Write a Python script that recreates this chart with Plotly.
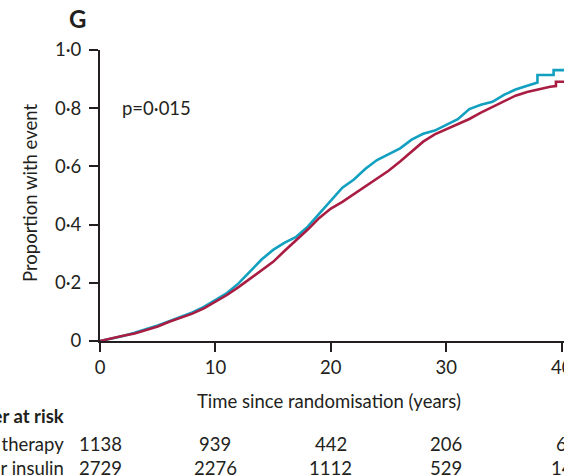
import plotly.graph_objects as go

# ---- data ----
t_conv = [0, 1, 2, 3, 4, 5, 6, 7, 8, 9, 10, 11, 12, 13, 14, 15, 16, 17, 18, 19, 20,
          21, 22, 23, 24, 25, 26, 27, 28, 29, 30, 31, 32, 33, 34, 35, 36, 37, 37.9, 37.9,
          39.3, 39.3, 40.2]
p_conv = [0, 0.008, 0.017, 0.028, 0.040, 0.053, 0.068, 0.083, 0.098, 0.117, 0.140, 0.165,
          0.198, 0.238, 0.280, 0.313, 0.338, 0.358, 0.393, 0.438, 0.482, 0.527, 0.555,
          0.592, 0.622, 0.642, 0.662, 0.692, 0.712, 0.723, 0.742, 0.762, 0.797, 0.812,
          0.822, 0.846, 0.864, 0.878, 0.888, 0.914, 0.914, 0.931, 0.931]

t_sulf = [0, 1, 2, 3, 4, 5, 6, 7, 8, 9, 10, 11, 12, 13, 14, 15, 16, 17, 18, 19, 20,
          21, 22, 23, 24, 25, 26, 27, 28, 29, 30, 31, 32, 33, 34, 35, 36, 37, 38, 39,
          39.5, 39.5, 40.2]
p_sulf = [0, 0.010, 0.018, 0.026, 0.037, 0.050, 0.066, 0.080, 0.094, 0.112, 0.135, 0.158,
          0.185, 0.215, 0.245, 0.272, 0.310, 0.345, 0.383, 0.423, 0.455, 0.478, 0.505,
          0.530, 0.556, 0.585, 0.617, 0.650, 0.685, 0.710, 0.727, 0.745, 0.763, 0.785,
          0.805, 0.825, 0.843, 0.856, 0.866, 0.874, 0.876, 0.891, 0.891]

risk_times = [0, 10, 20, 30, 40]
risk_conv = ["1138", "939", "442", "206", "6"]
risk_sulf = ["2729", "2276", "1112", "529", "14"]

x_ticks = [0, 10, 20, 30, 40]
y_ticks = [0, 0.2, 0.4, 0.6, 0.8, 1.0]
y_ticklabels = ["0", "0·2", "0·4", "0·6", "0·8", "1·0"]

panel_label = "G"
p_text = "p=0·015"
x_title = "Time since randomisation (years)"
y_title = "Proportion with event"
risk_header = "Number at risk"
group_names = ["Conventional therapy", "Sulphonylurea or insulin"]

# ---- styling ----
TEAL = "#12a0c0"
RED = "#a91d42"
INK = "#231f20"
FONT = "Lato"
FS = 18.5

W, H = 564, 475
ML, MR, MT, MB = 100, 0, 50, 134
PH = H - MT - MB
PW = W - ML - MR


def py2paper(py):
    return (H - MB - py) / PH


def px2paper(px):
    return (px - ML) / PW


fig = go.Figure()
fig.add_trace(go.Scatter(x=t_conv, y=p_conv, mode="lines", name=group_names[0],
                         line=dict(color=TEAL, width=2.6), cliponaxis=False))
fig.add_trace(go.Scatter(x=t_sulf, y=p_sulf, mode="lines", name=group_names[1],
                         line=dict(color=RED, width=2.6), cliponaxis=False))

axis_common = dict(showgrid=False, zeroline=False, showline=True, linecolor=INK,
                   linewidth=2, ticks="outside", ticklen=9, tickwidth=2, tickcolor=INK,
                   tickfont=dict(family=FONT, size=FS, color=INK), ticklabeloverflow="allow",
                   automargin=False)

fig.update_xaxes(range=[0, 40.2], tickvals=x_ticks, ticktext=[str(v) for v in x_ticks],
                 **axis_common)
fig.update_yaxes(range=[0, 1.0], tickvals=y_ticks, ticktext=y_ticklabels,
                 ticklabelstandoff=4, **axis_common)

ann = []
ann.append(dict(text="<b>" + panel_label + "</b>", xref="paper", yref="paper",
                x=px2paper(77), y=py2paper(19), showarrow=False,
                font=dict(family=FONT, size=24, color=INK), xanchor="center", yanchor="middle"))
ann.append(dict(text=p_text, xref="paper", yref="paper", x=px2paper(120), y=py2paper(108),
                showarrow=False, font=dict(family=FONT, size=FS, color=INK),
                xanchor="left", yanchor="middle"))
ann.append(dict(text=y_title, xref="paper", yref="paper", x=px2paper(30), y=py2paper(193),
                showarrow=False, textangle=-90, font=dict(family=FONT, size=FS, color=INK),
                xanchor="center", yanchor="middle"))
ann.append(dict(text=x_title, xref="paper", yref="paper", x=px2paper(329), y=py2paper(401),
                showarrow=False, font=dict(family=FONT, size=FS, color=INK),
                xanchor="center", yanchor="middle"))
ann.append(dict(text="<b>" + risk_header + "</b>", xref="paper", yref="paper",
                x=px2paper(66), y=py2paper(416), showarrow=False,
                font=dict(family=FONT, size=FS, color=INK), xanchor="right", yanchor="middle"))
for name, vals, py in [(group_names[0], risk_conv, 444), (group_names[1], risk_sulf, 468)]:
    ann.append(dict(text=name, xref="paper", yref="paper", x=px2paper(66), y=py2paper(py),
                    showarrow=False, font=dict(family=FONT, size=FS, color=INK),
                    xanchor="right", yanchor="middle"))
    for tt, v in zip(risk_times, vals):
        ann.append(dict(text=v, xref="x", yref="paper", x=tt, y=py2paper(py),
                        showarrow=False, font=dict(family=FONT, size=FS, color=INK),
                        xanchor="center", yanchor="middle"))

fig.update_layout(width=W, height=H, margin=dict(l=ML, r=MR, t=MT, b=MB, autoexpand=False),
                  plot_bgcolor="white", paper_bgcolor="white", showlegend=False,
                  annotations=ann, font=dict(family=FONT, color=INK))

fig.write_html("out.html", config={"displayModeBar": False},
               post_script="document.body.style.margin='0';document.body.style.padding='0';")
